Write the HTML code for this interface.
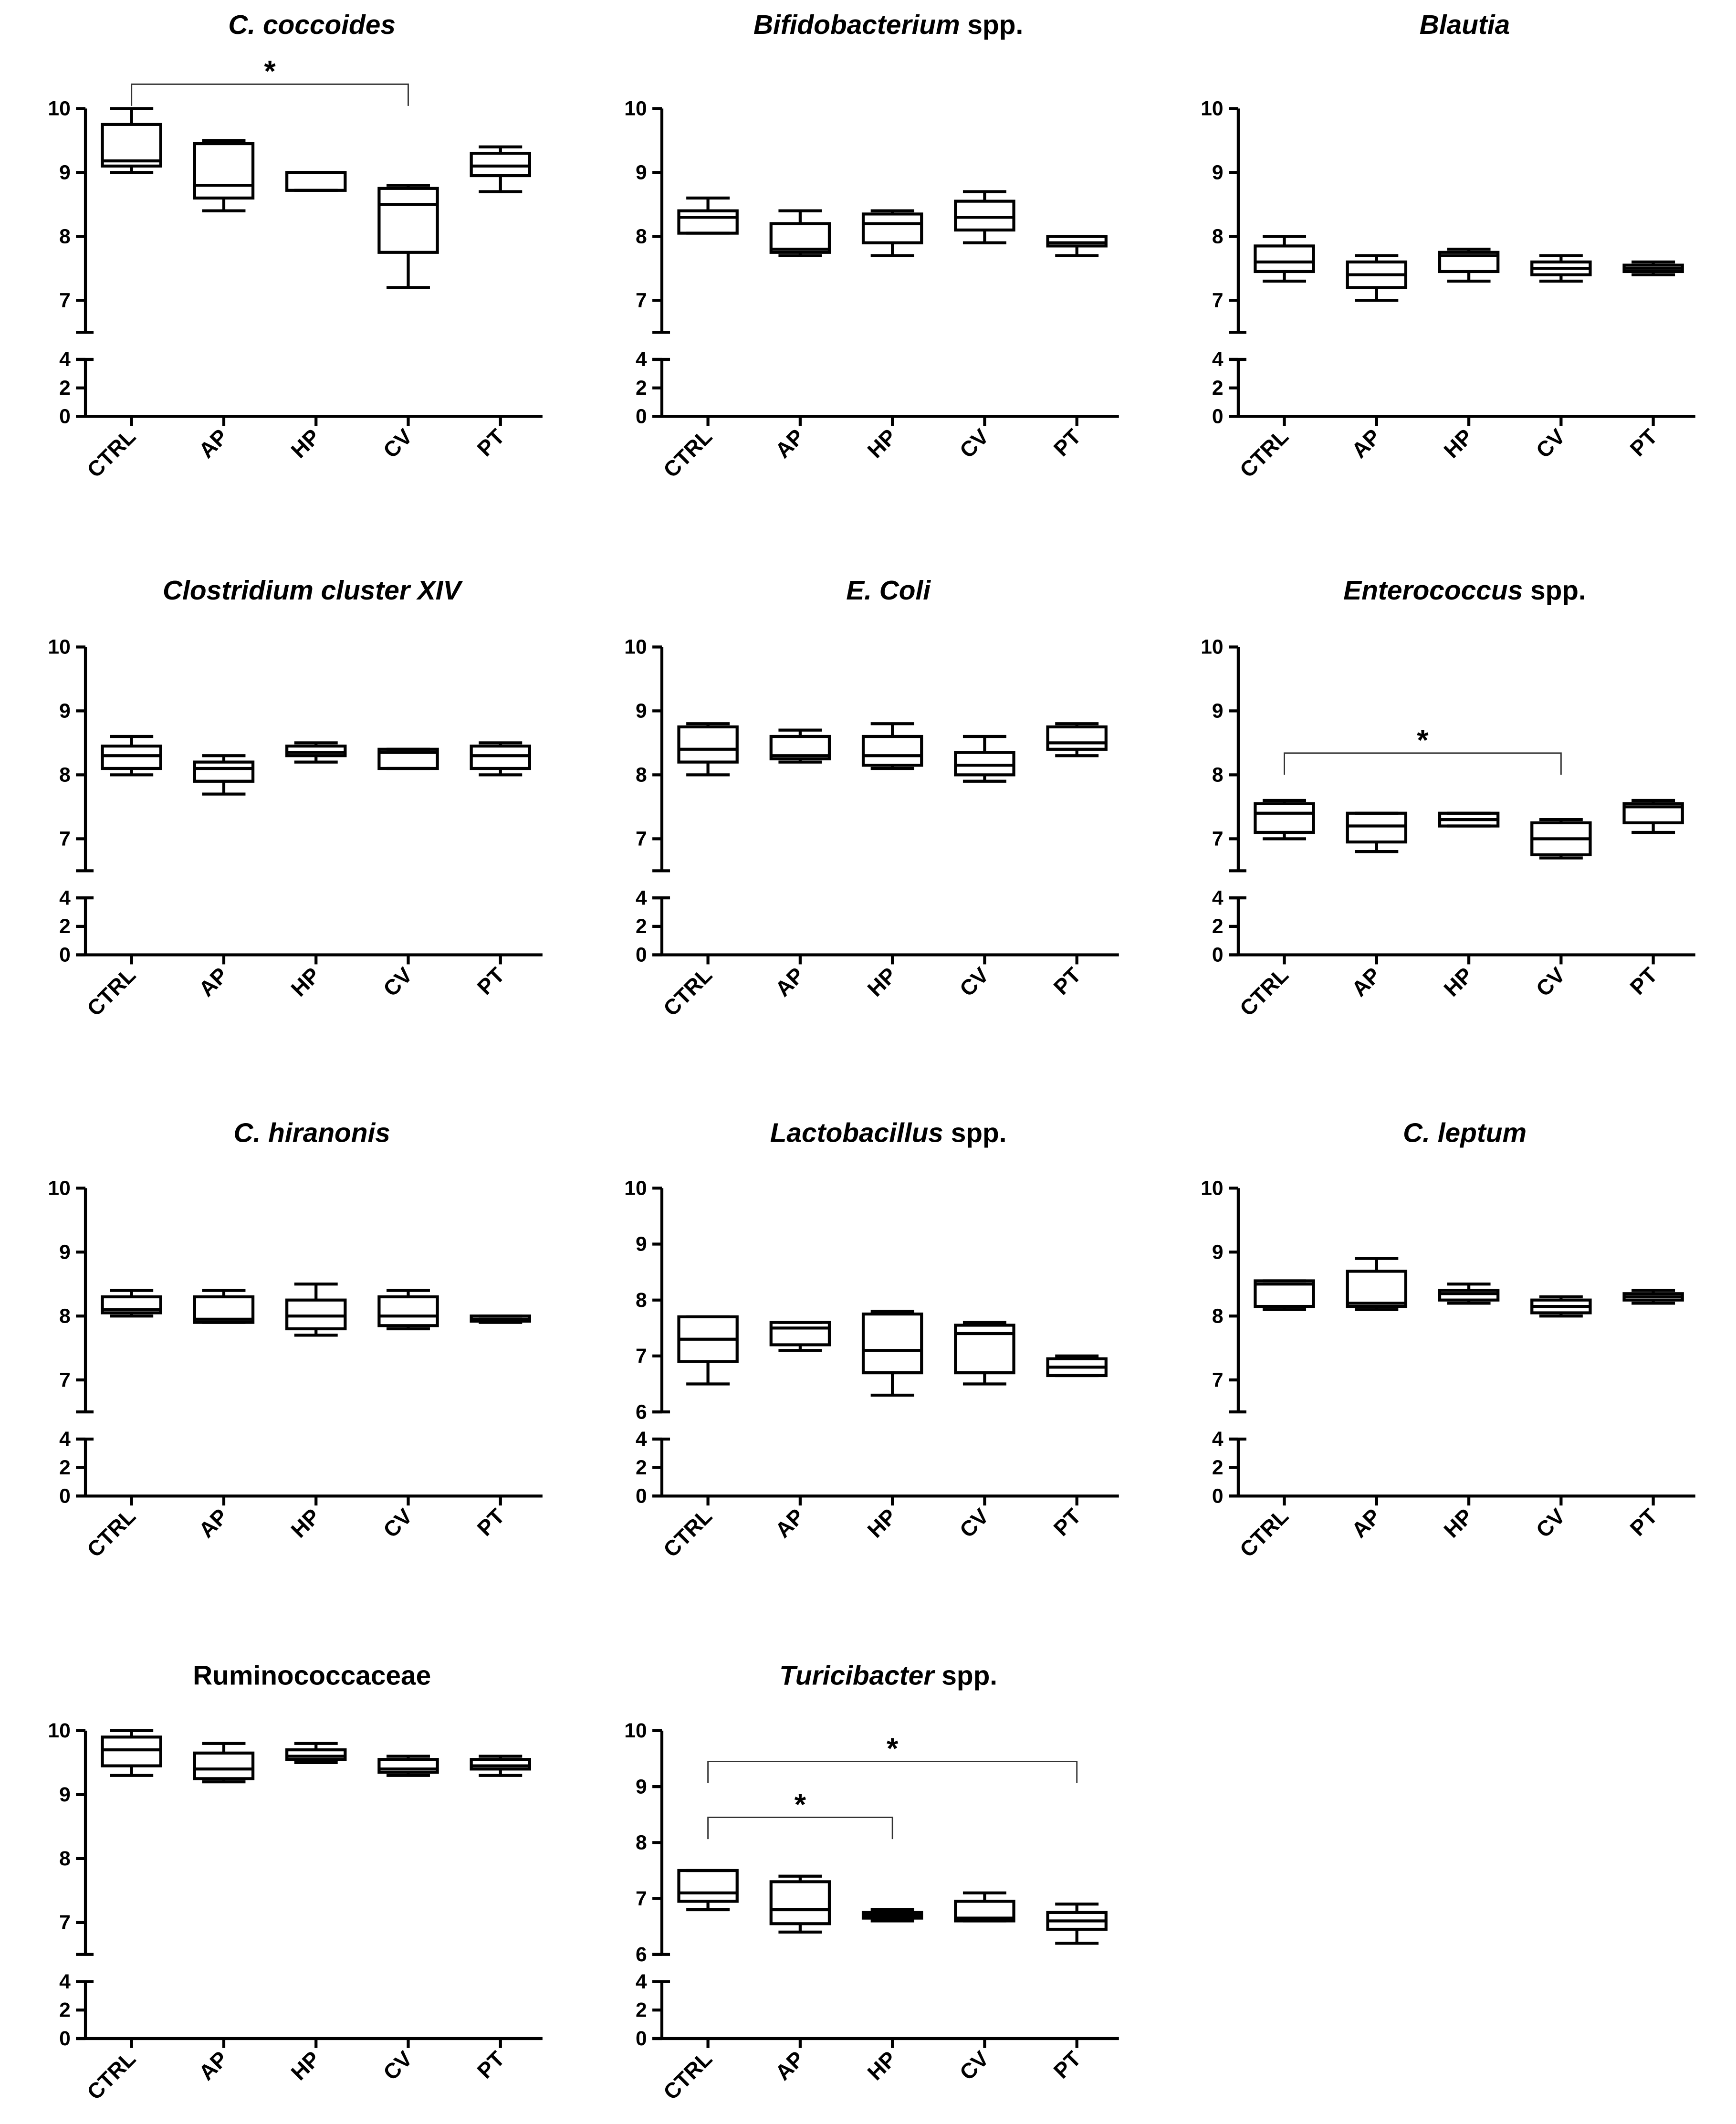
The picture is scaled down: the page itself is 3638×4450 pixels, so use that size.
<!DOCTYPE html>
<html><head><meta charset="utf-8"><style>
html,body{margin:0;padding:0;background:#fff;}
svg{display:block;}
text{font-family:"Liberation Sans",Arial,sans-serif;font-weight:bold;fill:#000;}
</style></head><body>
<svg id="chart" width="3638" height="4450" viewBox="0 0 1280 1566" preserveAspectRatio="none" xmlns="http://www.w3.org/2000/svg"></svg>
<script>
const categories = ["CTRL","AP","HP","CV","PT"];
const titles = [["C. coccoides",""],["Bifidobacterium"," spp."],["Blautia",""],["Clostridium cluster XIV",""],["E. Coli",""],["Enterococcus"," spp."],["C. hiranonis",""],["Lactobacillus"," spp."],["C. leptum",""],["","Ruminococcaceae"],["Turicibacter"," spp."]];
const yMins = [6.5,6.5,6.5,6.5,6.5,6.5,6.5,6,6.5,6.5,6];
// [min,q1,median,q3,max] per category
const s1 = [[9.0,9.1,9.18,9.75,10.0],[8.4,8.6,8.8,9.45,9.5],[8.72,8.72,9.0,9.0,9.0],[7.2,7.75,8.5,8.75,8.8],[8.7,8.95,9.1,9.3,9.4]];
const s2 = [[8.05,8.05,8.3,8.4,8.6],[7.7,7.75,7.8,8.2,8.4],[7.7,7.9,8.2,8.35,8.4],[7.9,8.1,8.3,8.55,8.7],[7.7,7.85,7.9,8.0,8.0]];
const s3 = [[7.3,7.45,7.6,7.85,8.0],[7.0,7.2,7.4,7.6,7.7],[7.3,7.45,7.7,7.75,7.8],[7.3,7.4,7.5,7.6,7.7],[7.4,7.45,7.5,7.55,7.6]];
const s4 = [[8.0,8.1,8.3,8.45,8.6],[7.7,7.9,8.1,8.2,8.3],[8.2,8.3,8.35,8.45,8.5],[8.1,8.1,8.35,8.4,8.4],[8.0,8.1,8.3,8.45,8.5]];
const s5 = [[8.0,8.2,8.4,8.75,8.8],[8.2,8.25,8.3,8.6,8.7],[8.1,8.15,8.3,8.6,8.8],[7.9,8.0,8.15,8.35,8.6],[8.3,8.4,8.5,8.75,8.8]];
const s6 = [[7.0,7.1,7.4,7.55,7.6],[6.8,6.95,7.2,7.4,7.4],[7.2,7.2,7.3,7.4,7.4],[6.7,6.75,7.0,7.25,7.3],[7.1,7.25,7.5,7.55,7.6]];
const s7 = [[8.0,8.05,8.1,8.3,8.4],[7.9,7.9,7.95,8.3,8.4],[7.7,7.8,8.0,8.25,8.5],[7.8,7.85,8.0,8.3,8.4],[7.9,7.92,7.95,8.0,8.0]];
const s8 = [[6.5,6.9,7.3,7.7,7.7],[7.1,7.2,7.5,7.6,7.6],[6.3,6.7,7.1,7.75,7.8],[6.5,6.7,7.4,7.55,7.6],[6.65,6.65,6.8,6.95,7.0]];
const s9 = [[8.1,8.15,8.5,8.55,8.55],[8.1,8.15,8.2,8.7,8.9],[8.2,8.25,8.35,8.4,8.5],[8.0,8.05,8.15,8.25,8.3],[8.2,8.25,8.3,8.35,8.4]];
const s10 = [[9.3,9.45,9.7,9.9,10.0],[9.2,9.25,9.4,9.65,9.8],[9.5,9.55,9.6,9.7,9.8],[9.3,9.35,9.4,9.55,9.6],[9.3,9.4,9.45,9.55,9.6]];
const s11 = [[6.8,6.95,7.1,7.5,7.5],[6.4,6.55,6.8,7.3,7.4],[6.6,6.65,6.7,6.75,6.8],[6.6,6.6,6.65,6.95,7.1],[6.2,6.45,6.6,6.75,6.9]];
const series = [s1,s2,s3,s4,s5,s6,s7,s8,s9,s10,s11];
// significance brackets: [panel, fromIndex, toIndex, bracket value]
const brackets = [[0,0,3,10.38],[5,0,3,8.34],[10,0,2,8.45],[10,0,4,9.45]];

const NS="http://www.w3.org/2000/svg";
const svg=document.getElementById('chart');
function el(tag,attrs,parent){const e=document.createElementNS(NS,tag);for(const k in attrs)e.setAttribute(k,attrs[k]);(parent||svg).appendChild(e);return e;}
const colX=[63,488,913];
const rowT=[80,477,876,1276];
const titleY=[25,442,842,1242];
const H=165;
series.forEach((data,p)=>{
  const r=Math.floor(p/3),c=p%3;
  const ax=colX[c],T=rowT[r];
  const g=el('g',{});
  
  
  const ymin=yMins[p];
  const y=v=>T+(10-v)/(10-ymin)*H;
  const yl=v=>T+227-v/4*42;
  const x=i=>ax+34+i*68;
  const t=el('text',{x:ax+167,y:titleY[r],'text-anchor':'middle','font-size':20},g);
  
  
  const a=el('tspan',{'font-style':'italic'},t);a.textContent=titles[p][0];
  const b=el('tspan',{},t);b.textContent=titles[p][1];
  const st={stroke:'#000','stroke-width':2.2,fill:'none'};
  const ya=el('line',Object.assign({x1:ax,y1:T,x2:ax,y2:T+H},st),g);
  
  
  el('line',Object.assign({x1:ax-7,y1:T+H,x2:ax+6,y2:T+H},st),g);
  for(let v=Math.ceil(ymin);v<=10;v++){
    el('line',Object.assign({x1:ax-7,y1:y(v),x2:ax,y2:y(v)},st),g);
    const tl=el('text',{x:ax-11,y:y(v)+5,'text-anchor':'end','font-size':15},g);
    
    
    tl.textContent=v;
  }
  el('line',Object.assign({x1:ax,y1:yl(4),x2:ax,y2:yl(0)},st),g);
  el('line',Object.assign({x1:ax-7,y1:yl(4),x2:ax+6,y2:yl(4)},st),g);
  [4,2,0].forEach(v=>{
    el('line',Object.assign({x1:ax-7,y1:yl(v),x2:ax,y2:yl(v)},st),g);
    const tl=el('text',{x:ax-11,y:yl(v)+5,'text-anchor':'end','font-size':15},g);
    
    
    tl.textContent=v;
  });
  const xa=el('line',Object.assign({x1:ax-7,y1:yl(0),x2:x(4)+31,y2:yl(0)},st),g);
  
  
  categories.forEach((cat,i)=>{
    el('line',Object.assign({x1:x(i),y1:yl(0),x2:x(i),y2:yl(0)+7},st),g);
    const lx=x(i)+4,ly=yl(0)+16;
    const tl=el('text',{x:lx,y:ly,'text-anchor':'end','font-size':16,transform:`rotate(-45 ${lx} ${ly})`},g);
    
    
    tl.textContent=cat;
    const d=data[i];
    const bg=el('g',{},g);
    
    
    const hw=21.5,cw=16;
    el('line',Object.assign({x1:x(i),y1:y(d[4]),x2:x(i),y2:y(d[3])},st),bg);
    el('line',Object.assign({x1:x(i),y1:y(d[1]),x2:x(i),y2:y(d[0])},st),bg);
    el('line',Object.assign({x1:x(i)-cw,y1:y(d[4]),x2:x(i)+cw,y2:y(d[4])},st),bg);
    el('line',Object.assign({x1:x(i)-cw,y1:y(d[0]),x2:x(i)+cw,y2:y(d[0])},st),bg);
    el('rect',Object.assign({x:x(i)-hw,y:y(d[3]),width:2*hw,height:Math.max(y(d[1])-y(d[3]),1)},st),bg);
    el('line',Object.assign({x1:x(i)-hw,y1:y(d[2]),x2:x(i)+hw,y2:y(d[2])},st),bg);
  });
  brackets.filter(bk=>bk[0]===p).forEach(bk=>{
    const by=y(bk[3]);
    const bp=el('path',{d:`M${x(bk[1])} ${by+16}V${by}H${x(bk[2])}V${by+16}`,stroke:'#333','stroke-width':1,fill:'none'},g);
    
    
    const s=el('text',{x:(x(bk[1])+x(bk[2]))/2,y:by-2,'text-anchor':'middle','font-size':22},g);
    
    
    s.textContent='*';
  });
});
</script>
</body></html>
